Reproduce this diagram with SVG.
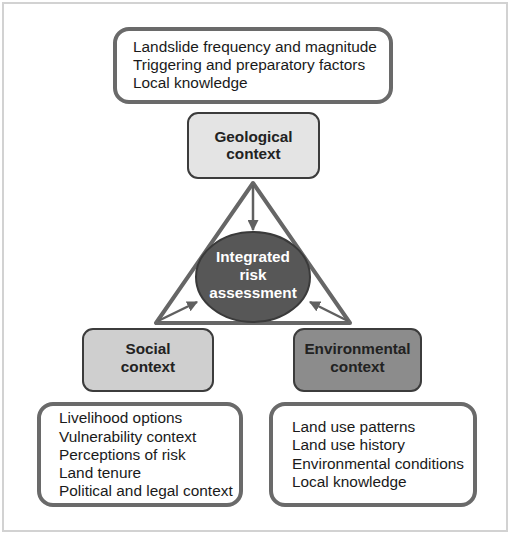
<svg xmlns="http://www.w3.org/2000/svg" width="510" height="535" viewBox="0 0 510 535">
<style>
.list{fill:#fff;stroke:#6a6a6a;stroke-width:4}
.ctx{stroke:#3c3c3c;stroke-width:2}
.lt{font-family:"Liberation Sans",Arial,sans-serif;font-size:15.4px;fill:#1a1a1a}
.ct{font-family:"Liberation Sans",Arial,sans-serif;font-size:15.3px;font-weight:bold;fill:#222;text-anchor:middle}
.conn{stroke:#606060;stroke-width:2.5;fill:none}
</style>
<defs>
<marker id="ah" viewBox="0 0 10 10" refX="9" refY="5" markerWidth="4.4" markerHeight="4.4" orient="auto" markerUnits="strokeWidth">
<path d="M0,0 L10,5 L0,10 z" fill="#606060"/>
</marker>
</defs>
<rect x="0" y="0" width="510" height="535" fill="#fff"/>
<rect x="3" y="3" width="504" height="528" fill="none" stroke="#d2d2d2" stroke-width="2"/>

<g id="top-list">
<rect class="list" x="115" y="29" width="276" height="73" rx="14"/>
<text class="lt" x="133" y="52">Landslide frequency and magnitude</text>
<text class="lt" x="133" y="70">Triggering and preparatory factors</text>
<text class="lt" x="133" y="88">Local knowledge</text>
</g>

<g id="geological">
<rect class="ctx" x="188" y="113" width="131" height="65" rx="10" fill="#e4e4e4"/>
<text class="ct" x="253.5" y="142">Geological</text>
<text class="ct" x="253.5" y="159">context</text>
</g>

<g id="triangle">
<polygon points="253,183 156,323 350,323" fill="none" stroke="#666" stroke-width="4" stroke-linejoin="round"/>
</g>

<g id="integrated">
<ellipse cx="253" cy="277" rx="57" ry="45" fill="#575757" stroke="#3a3a3a" stroke-width="2"/>
<text class="ct" x="253" y="262" style="fill:#fff">Integrated</text>
<text class="ct" x="253" y="280" style="fill:#fff">risk</text>
<text class="ct" x="253" y="298" style="fill:#fff">assessment</text>
</g>

<g id="connectors">
<line class="conn" x1="253" y1="185" x2="253" y2="230" marker-end="url(#ah)"/>
<line class="conn" x1="158" y1="321" x2="197" y2="302" marker-end="url(#ah)"/>
<line class="conn" x1="348" y1="321" x2="310" y2="302" marker-end="url(#ah)"/>
</g>

<g id="social">
<rect class="ctx" x="83" y="329" width="130" height="62" rx="10" fill="#cfcfcf"/>
<text class="ct" x="148" y="354">Social</text>
<text class="ct" x="148" y="372">context</text>
</g>

<g id="environmental">
<rect class="ctx" x="294" y="329" width="127" height="62" rx="10" fill="#8c8c8c"/>
<text class="ct" x="357.5" y="354">Environmental</text>
<text class="ct" x="357.5" y="372">context</text>
</g>

<g id="social-list">
<rect class="list" x="39" y="404" width="202" height="101" rx="14"/>
<text class="lt" x="59" y="423">Livelihood options</text>
<text class="lt" x="59" y="441.5">Vulnerability context</text>
<text class="lt" x="59" y="459.5">Perceptions of risk</text>
<text class="lt" x="59" y="477.5">Land tenure</text>
<text class="lt" x="59" y="496">Political and legal context</text>
</g>

<g id="env-list">
<rect class="list" x="271" y="404" width="204" height="101" rx="14"/>
<text class="lt" x="292" y="432">Land use patterns</text>
<text class="lt" x="292" y="450">Land use history</text>
<text class="lt" x="292" y="468.5">Environmental conditions</text>
<text class="lt" x="292" y="487">Local knowledge</text>
</g>
</svg>
